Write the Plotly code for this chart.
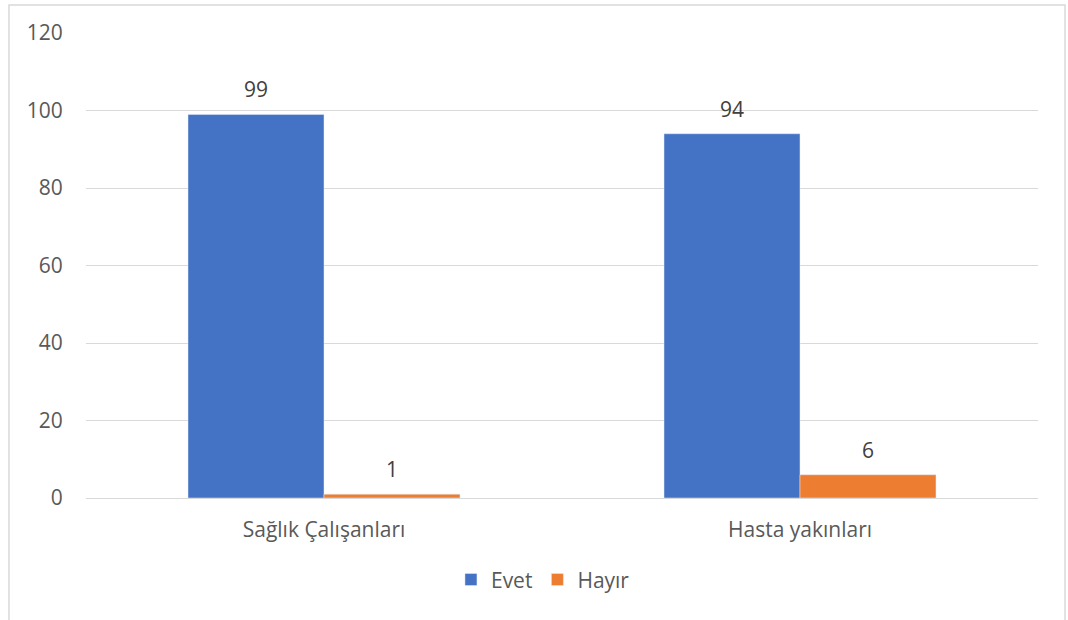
import plotly.graph_objects as go

categories = ["Sağlık Çalışanları", "Hasta yakınları"]
evet = [99, 94]
hayir = [1, 6]

font_fam = "'Open Sans', sans-serif"
txt = "#595959"
fs = 21

fig = go.Figure()
fig.add_trace(go.Bar(name="Evet", x=categories, y=evet, marker_color="#4472C4"))
fig.add_trace(go.Bar(name="Hayır", x=categories, y=hayir, marker_color="#ED7D31"))

annotations = []
for vals, shift in ((evet, -68), (hayir, 68)):
    for c, v in zip(categories, vals):
        annotations.append(dict(x=c, y=v, xref="x", yref="y", text=str(v),
                                showarrow=False, xshift=shift, yshift=25,
                                font=dict(size=fs, color="#404040")))

fig.update_layout(
    width=1068, height=620,
    margin=dict(l=86, r=30, t=33, b=122),
    paper_bgcolor="white", plot_bgcolor="white",
    barmode="group", bargap=0.4286, bargroupgap=0,
    font=dict(family=font_fam, size=fs, color=txt),
    showlegend=True,
    legend=dict(orientation="h", x=0.48, xanchor="center", y=-0.176, yanchor="middle",
                font=dict(size=fs, color=txt), traceorder="normal"),
    xaxis=dict(showgrid=False, showline=True, linecolor="#D9D9D9", linewidth=1,
               ticks="outside", ticklen=13, tickcolor="rgba(0,0,0,0)",
               tickfont=dict(size=fs, color=txt)),
    yaxis=dict(range=[0, 120], tickvals=[0, 20, 40, 60, 80, 100, 120],
               showgrid=True, gridcolor="#D9D9D9", gridwidth=1, zeroline=False,
               showline=False, ticks="outside", ticklen=18, tickcolor="rgba(0,0,0,0)",
               tickfont=dict(size=fs, color=txt)),
    annotations=annotations,
    shapes=[dict(type="rect", xref="paper", yref="paper",
                 x0=-0.0809, x1=1.0284, y0=-0.28, y1=1.0602,
                 line=dict(color="#D9D9D9", width=1.5), fillcolor="rgba(0,0,0,0)",
                 layer="below")],
)

fig.write_html("out.html")
